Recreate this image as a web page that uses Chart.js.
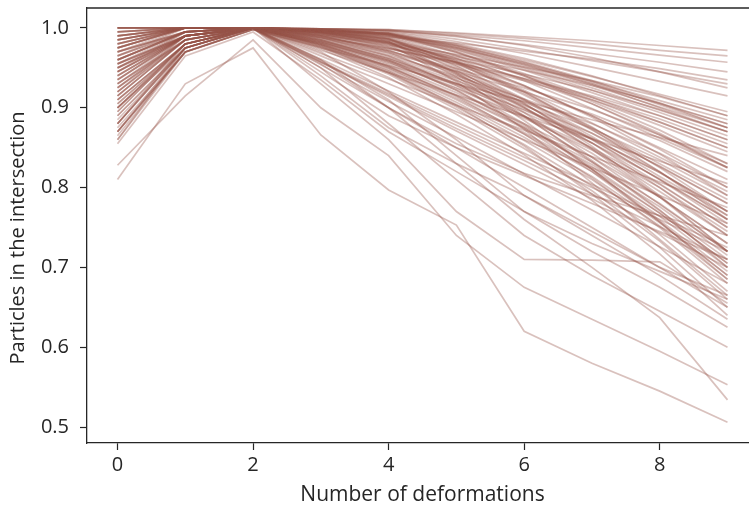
<!DOCTYPE html>
<html><head><meta charset="utf-8">
<script src="https://cdn.jsdelivr.net/npm/chart.js@4"></script>
<style>html,body{margin:0;padding:0;background:#fff;overflow:hidden}#wrap{width:749px;height:508px;overflow:hidden;position:relative}canvas{display:block}</style>
</head><body><div id="wrap"><canvas id="c" width="758" height="508"></canvas></div>
<script>
const deformations = [0,1,2,3,4,5,6,7,8,9];
const xTicks = [0,2,4,6,8];
const yTicks = [0.5,0.6,0.7,0.8,0.9,1.0];
const xTitle = 'Number of deformations';
const yTitle = 'Particles in the intersection';
const run01 = [0.99,1.0,1.0,0.999,0.998,0.994,0.989,0.984,0.978,0.972];
const run02 = [0.97,0.995,1.0,0.999,0.998,0.993,0.987,0.980,0.972,0.965];
const run03 = [1.0,1.0,1.0,0.999,0.997,0.991,0.984,0.975,0.966,0.957];
const run04 = [0.95,0.99,1.0,0.999,0.997,0.989,0.979,0.968,0.957,0.945];
const run05 = [0.98,1.0,1.0,0.995,0.989,0.981,0.971,0.961,0.949,0.935];
const run06 = [0.93,0.985,1.0,0.999,0.996,0.986,0.973,0.959,0.945,0.93];
const run07 = [0.96,0.995,1.0,0.998,0.995,0.983,0.968,0.951,0.933,0.915];
const run08 = [0.995,1.0,1.0,0.998,0.994,0.979,0.96,0.939,0.917,0.895];
const run09 = [0.91,0.98,1.0,0.992,0.981,0.967,0.951,0.934,0.914,0.89];
const run10 = [0.975,1.0,1.0,0.998,0.993,0.977,0.956,0.933,0.909,0.885];
const run11 = [0.94,0.99,1.0,0.998,0.993,0.976,0.954,0.93,0.905,0.88];
const run12 = [0.985,1.0,1.0,0.991,0.979,0.964,0.947,0.928,0.906,0.88];
const run13 = [0.89,0.975,1.0,0.998,0.993,0.975,0.953,0.928,0.901,0.875];
const run14 = [0.965,0.995,1.0,0.991,0.978,0.961,0.942,0.922,0.898,0.87];
const run15 = [0.92,0.985,1.0,0.997,0.992,0.974,0.951,0.925,0.897,0.87];
const run16 = [1.0,1.0,1.0,0.997,0.992,0.973,0.949,0.922,0.894,0.865];
const run17 = [0.87,0.97,0.998,0.988,0.974,0.957,0.937,0.915,0.89,0.86];
const run18 = [0.955,0.99,1.0,0.997,0.992,0.972,0.947,0.919,0.89,0.86];
const run19 = [0.98,1.0,1.0,0.99,0.975,0.957,0.936,0.913,0.886,0.855];
const run20 = [0.9,0.98,1.0,0.997,0.991,0.97,0.943,0.913,0.882,0.85];
const run21 = [0.945,0.99,1.0,0.989,0.974,0.955,0.934,0.91,0.882,0.85];
const run22 = [0.99,1.0,1.0,0.997,0.991,0.969,0.941,0.91,0.878,0.845];
const run23 = [0.86,0.97,0.998,0.975,0.953,0.93,0.908,0.885,0.863,0.84];
const run24 = [0.935,0.99,1.0,0.988,0.971,0.949,0.925,0.898,0.866,0.83];
const run25 = [0.97,0.995,1.0,0.997,0.99,0.965,0.934,0.899,0.862,0.825];
const run26 = [0.915,0.985,1.0,0.987,0.969,0.946,0.92,0.892,0.859,0.82];
const run27 = [0.995,1.0,1.0,0.996,0.989,0.962,0.928,0.89,0.85,0.81];
const run28 = [0.88,0.975,1.0,0.972,0.944,0.916,0.889,0.861,0.833,0.805];
const run29 = [0.95,0.99,1.0,0.986,0.966,0.94,0.911,0.88,0.843,0.80];
const run30 = [0.985,1.0,1.0,0.996,0.988,0.959,0.922,0.881,0.838,0.795];
const run31 = [0.925,0.985,1.0,0.985,0.964,0.937,0.907,0.874,0.835,0.79];
const run32 = [0.96,0.995,1.0,0.996,0.987,0.957,0.918,0.875,0.83,0.785];
const run33 = [0.895,0.98,1.0,0.984,0.962,0.934,0.903,0.868,0.827,0.78];
const run34 = [1.0,1.0,1.0,0.996,0.987,0.956,0.916,0.872,0.826,0.78];
const run35 = [0.94,0.99,1.0,0.968,0.936,0.903,0.872,0.839,0.807,0.775];
const run36 = [0.975,1.0,1.0,0.984,0.961,0.931,0.898,0.862,0.819,0.77];
const run37 = [0.87,0.97,0.998,0.982,0.959,0.93,0.897,0.861,0.819,0.77];
const run38 = [0.955,0.99,1.0,0.995,0.986,0.953,0.911,0.864,0.814,0.765];
const run39 = [0.99,1.0,1.0,0.983,0.959,0.928,0.894,0.856,0.811,0.76];
const run40 = [0.91,0.98,1.0,0.995,0.986,0.952,0.909,0.861,0.81,0.76];
const run41 = [0.93,0.985,1.0,0.965,0.93,0.895,0.86,0.825,0.79,0.755];
const run42 = [0.965,0.995,1.0,0.982,0.957,0.925,0.889,0.85,0.804,0.75];
const run43 = [0.885,0.975,1.0,0.982,0.956,0.924,0.887,0.847,0.8,0.745];
const run44 = [0.98,1.0,1.0,0.995,0.984,0.948,0.901,0.849,0.795,0.74];
const run45 = [0.92,0.985,1.0,0.981,0.954,0.919,0.88,0.838,0.788,0.73];
const run46 = [0.945,0.99,1.0,0.961,0.921,0.882,0.843,0.804,0.764,0.725];
const run47 = [1.0,1.0,1.0,0.98,0.952,0.916,0.876,0.832,0.78,0.72];
const run48 = [0.9,0.98,1.0,0.994,0.983,0.944,0.894,0.838,0.779,0.72];
const run49 = [0.96,0.995,1.0,0.98,0.951,0.915,0.874,0.829,0.776,0.715];
const run50 = [0.875,0.97,0.998,0.957,0.916,0.874,0.834,0.792,0.751,0.71];
const run51 = [0.985,1.0,1.0,0.994,0.983,0.942,0.89,0.832,0.771,0.71];
const run52 = [0.935,0.99,1.0,0.979,0.95,0.912,0.869,0.823,0.768,0.705];
const run53 = [0.97,0.995,1.0,0.979,0.949,0.91,0.867,0.82,0.764,0.70];
const run54 = [0.905,0.98,1.0,0.957,0.914,0.871,0.829,0.786,0.743,0.70];
const run55 = [0.995,1.0,1.0,0.994,0.982,0.939,0.884,0.823,0.759,0.695];
const run56 = [0.95,0.99,1.0,0.978,0.947,0.907,0.863,0.814,0.756,0.69];
const run57 = [0.865,0.97,0.998,0.976,0.944,0.904,0.859,0.81,0.752,0.685];
const run58 = [0.925,0.985,1.0,0.954,0.908,0.863,0.817,0.772,0.726,0.68];
const run59 = [0.975,1.0,1.0,0.977,0.944,0.901,0.854,0.802,0.741,0.67];
const run60 = [0.915,0.985,1.0,0.993,0.98,0.933,0.873,0.806,0.735,0.665];
const run61 = [0.89,0.975,1.0,0.976,0.942,0.898,0.849,0.796,0.733,0.66];
const run62 = [0.955,0.99,1.0,0.95,0.9,0.85,0.8,0.75,0.7,0.65];
const run63 = [0.88,0.975,1.0,0.974,0.938,0.892,0.841,0.784,0.717,0.64];
const run64 = [0.88,0.98,1.0,0.97,0.92,0.86,0.79,0.74,0.69,0.635];
const run65 = [0.92,0.99,1.0,0.96,0.91,0.84,0.77,0.72,0.675,0.625];
const run66 = [0.9,0.98,1.0,0.95,0.88,0.81,0.74,0.69,0.645,0.60];
const run67 = [0.86,0.975,1.0,0.93,0.86,0.77,0.71,0.709,0.707,0.655];
const run68 = [0.828,0.915,0.985,0.90,0.84,0.74,0.675,0.635,0.595,0.553];
const run69 = [0.87,0.975,1.0,0.96,0.9,0.83,0.76,0.70,0.637,0.534];
const run70 = [0.81,0.93,0.975,0.866,0.797,0.753,0.62,0.58,0.545,0.506];
const run71 = [0.965,1.0,1.0,0.996,0.99,0.975,0.955,0.93,0.9,0.87];
const run72 = [0.985,1.0,1.0,0.997,0.992,0.978,0.958,0.934,0.906,0.875];
const run73 = [0.945,0.995,1.0,0.995,0.985,0.966,0.94,0.908,0.872,0.83];
const run74 = [1.0,1.0,1.0,0.998,0.993,0.97,0.94,0.905,0.866,0.825];
const run75 = [0.955,0.995,1.0,0.993,0.98,0.957,0.927,0.89,0.848,0.80];
const run76 = [0.99,1.0,1.0,0.995,0.984,0.96,0.928,0.888,0.842,0.79];
const run77 = [0.925,0.99,1.0,0.99,0.972,0.945,0.91,0.868,0.82,0.765];
const run78 = [0.975,1.0,1.0,0.994,0.981,0.955,0.92,0.876,0.825,0.77];
const run79 = [0.905,0.98,1.0,0.988,0.968,0.938,0.9,0.856,0.805,0.75];
const run80 = [0.995,1.0,1.0,0.996,0.986,0.958,0.92,0.873,0.82,0.76];
const run81 = [0.94,0.99,1.0,0.985,0.962,0.93,0.89,0.843,0.788,0.73];
const run82 = [0.97,1.0,1.0,0.992,0.976,0.946,0.905,0.856,0.8,0.74];
const run83 = [0.915,0.985,1.0,0.983,0.958,0.922,0.878,0.826,0.768,0.705];
const run84 = [0.98,1.0,1.0,0.993,0.977,0.944,0.9,0.848,0.788,0.72];
const run85 = [0.895,0.98,1.0,0.98,0.952,0.914,0.867,0.812,0.75,0.68];
const run86 = [0.96,0.995,1.0,0.99,0.97,0.935,0.889,0.834,0.772,0.70];
const run87 = [0.93,0.99,1.0,0.985,0.96,0.922,0.875,0.82,0.757,0.69];
const run88 = [1.0,1.0,1.0,0.995,0.982,0.95,0.906,0.852,0.79,0.72];
const run89 = [0.88,0.975,1.0,0.978,0.946,0.903,0.852,0.792,0.725,0.65];
const run90 = [0.95,0.995,1.0,0.988,0.965,0.928,0.88,0.823,0.757,0.685];
const run91 = [0.985,1.0,1.0,0.998,0.994,0.98,0.962,0.94,0.915,0.89];
const run92 = [0.99,1.0,1.0,0.999,0.997,0.99,0.978,0.963,0.945,0.925];
const run93 = [0.975,1.0,1.0,0.998,0.993,0.978,0.957,0.932,0.904,0.875];
const run94 = [0.935,0.99,1.0,0.994,0.982,0.962,0.936,0.905,0.868,0.825];
const run95 = [0.91,0.98,1.0,0.958,0.918,0.878,0.838,0.8,0.76,0.72];
const run96 = [0.9,0.975,1.0,0.945,0.89,0.85,0.815,0.78,0.745,0.71];
const run97 = [0.87,0.97,1.0,0.94,0.875,0.83,0.79,0.745,0.70,0.665];
const run98 = [0.96,0.995,1.0,0.955,0.9,0.855,0.818,0.79,0.765,0.74];
const run99 = [0.855,0.965,0.995,0.935,0.87,0.82,0.77,0.73,0.695,0.66];
const run100 = [0.945,0.99,1.0,0.99,0.972,0.942,0.904,0.86,0.81,0.755];

const runs = [run01,run02,run03,run04,run05,run06,run07,run08,run09,run10,
  run11,run12,run13,run14,run15,run16,run17,run18,run19,run20,
  run21,run22,run23,run24,run25,run26,run27,run28,run29,run30,
  run31,run32,run33,run34,run35,run36,run37,run38,run39,run40,
  run41,run42,run43,run44,run45,run46,run47,run48,run49,run50,
  run51,run52,run53,run54,run55,run56,run57,run58,run59,run60,
  run61,run62,run63,run64,run65,run66,run67,run68,run69,run70,
  run71,run72,run73,run74,run75,run76,run77,run78,run79,run80,
  run81,run82,run83,run84,run85,run86,run87,run88,run89,run90,
  run91,run92,run93,run94,run95,run96,run97,run98,run99,run100];

const FONT = "'Open Sans', 'DejaVu Sans', sans-serif";
const INK = '#262626';

const datasets = runs.map((r, i) => ({
  label: 'run ' + (i + 1),
  data: deformations.map((x, j) => ({x: x, y: r[j]})),
  borderColor: 'rgba(150,82,72,0.36)',
  borderWidth: 1.7,
  pointRadius: 0,
  fill: false,
  tension: 0
}));

const framePlugin = {
  id: 'frame',
  afterDraw(chart) {
    const {ctx, chartArea} = chart;
    ctx.save();
    ctx.strokeStyle = INK;
    ctx.lineWidth = 1.3;
    ctx.beginPath();
    ctx.moveTo(chartArea.left, chartArea.top);
    ctx.lineTo(chartArea.right, chartArea.top);
    ctx.stroke();
    ctx.fillStyle = INK;
    ctx.font = "20px " + FONT;
    ctx.textAlign = 'center';
    ctx.textBaseline = 'middle';
    ctx.translate(18, 238);
    ctx.rotate(-Math.PI / 2);
    ctx.fillText(yTitle, 0, 0);
    ctx.restore();
  }
};

new Chart(document.getElementById('c'), {
  type: 'line',
  data: {datasets},
  plugins: [framePlugin],
  options: {
    responsive: false,
    animation: false,
    devicePixelRatio: 1,
    layout: {padding: {top: 8, left: 0, right: 0, bottom: 0}},
    plugins: {legend: {display: false}, tooltip: {enabled: false}},
    scales: {
      x: {
        type: 'linear',
        min: -0.45, max: 9.45,
        afterBuildTicks: s => { s.ticks = xTicks.map(v => ({value: v})); },
        afterFit: s => { s.height = 65; s.paddingLeft = 0; s.paddingRight = 0; },
        ticks: {font: {family: FONT, size: 20}, color: INK, padding: 3},
        grid: {display: true, drawOnChartArea: false, drawTicks: true, tickLength: 7, tickColor: INK, tickWidth: 1.2},
        border: {display: true, color: INK, width: 1.3},
        title: {display: true, text: xTitle, font: {family: FONT, size: 21}, color: INK, padding: {top: 0, bottom: 0}}
      },
      y: {
        min: 0.48, max: 1.025,
        afterBuildTicks: s => { s.ticks = yTicks.map(v => ({value: v})); },
        afterFit: s => { s.width = 87; s.paddingTop = 0; s.paddingBottom = 0; },
        ticks: {font: {family: FONT, size: 20}, color: INK, padding: 11, callback: v => v.toFixed(1)},
        grid: {display: true, drawOnChartArea: false, drawTicks: true, tickLength: 7, tickColor: INK, tickWidth: 1.2},
        border: {display: true, color: INK, width: 1.3},
        title: {display: false}
      }
    }
  }
});
</script></body></html>
